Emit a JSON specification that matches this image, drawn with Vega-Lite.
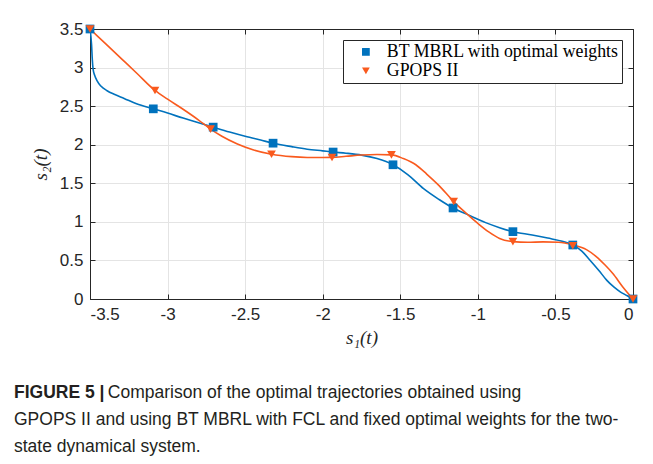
{
  "$schema": "https://vega.github.io/schema/vega-lite/v6.json",
  "width": 543,
  "height": 270,
  "autosize": {"type": "none"},
  "padding": {"left": 90, "top": 29, "right": 20, "bottom": 165},
  "background": "white",
  "title": {
    "text": "FIGURE 5 |",
    "subtitle": [
      "\u200b\u00a0\u00a0\u00a0\u00a0\u00a0\u00a0\u00a0\u00a0\u00a0\u00a0\u00a0\u00a0\u00a0\u00a0\u00a0\u00a0\u00a0\u00a0\u00a0\u200aComparison of the optimal trajectories obtained using",
      "GPOPS II and using BT MBRL with FCL and fixed optimal weights for the two-",
      "state dynamical system."
    ],
    "orient": "bottom",
    "anchor": "start",
    "frame": "group",
    "dx": -76,
    "offset": 37,
    "baseline": "top",
    "font": "Liberation Sans",
    "fontSize": 17.5,
    "fontWeight": "bold",
    "color": "#231f20",
    "lineHeight": 27,
    "subtitleFont": "Liberation Sans",
    "subtitleFontSize": 17.5,
    "subtitleFontWeight": "normal",
    "subtitleColor": "#231f20",
    "subtitleLineHeight": 27,
    "subtitlePadding": -17.5
  },
  "datasets": {
    "curves": [
      {"s": "BT MBRL with optimal weights", "x": -3.5, "y": 3.5},
      {"s": "BT MBRL with optimal weights", "x": -3.49, "y": 3.3},
      {"s": "BT MBRL with optimal weights", "x": -3.485, "y": 3.1},
      {"s": "BT MBRL with optimal weights", "x": -3.48, "y": 2.98},
      {"s": "BT MBRL with optimal weights", "x": -3.47, "y": 2.9},
      {"s": "BT MBRL with optimal weights", "x": -3.455, "y": 2.83},
      {"s": "BT MBRL with optimal weights", "x": -3.43, "y": 2.76},
      {"s": "BT MBRL with optimal weights", "x": -3.39, "y": 2.7},
      {"s": "BT MBRL with optimal weights", "x": -3.34, "y": 2.65},
      {"s": "BT MBRL with optimal weights", "x": -3.28, "y": 2.6},
      {"s": "BT MBRL with optimal weights", "x": -3.2, "y": 2.53},
      {"s": "BT MBRL with optimal weights", "x": -3.092, "y": 2.465},
      {"s": "BT MBRL with optimal weights", "x": -3.0, "y": 2.41},
      {"s": "BT MBRL with optimal weights", "x": -2.9, "y": 2.345},
      {"s": "BT MBRL with optimal weights", "x": -2.8, "y": 2.285},
      {"s": "BT MBRL with optimal weights", "x": -2.706, "y": 2.228},
      {"s": "BT MBRL with optimal weights", "x": -2.6, "y": 2.165},
      {"s": "BT MBRL with optimal weights", "x": -2.5, "y": 2.11},
      {"s": "BT MBRL with optimal weights", "x": -2.4, "y": 2.06},
      {"s": "BT MBRL with optimal weights", "x": -2.32, "y": 2.02},
      {"s": "BT MBRL with optimal weights", "x": -2.2, "y": 1.975},
      {"s": "BT MBRL with optimal weights", "x": -2.1, "y": 1.942},
      {"s": "BT MBRL with optimal weights", "x": -2.0, "y": 1.92},
      {"s": "BT MBRL with optimal weights", "x": -1.933, "y": 1.905},
      {"s": "BT MBRL with optimal weights", "x": -1.85, "y": 1.89},
      {"s": "BT MBRL with optimal weights", "x": -1.75, "y": 1.865},
      {"s": "BT MBRL with optimal weights", "x": -1.65, "y": 1.82},
      {"s": "BT MBRL with optimal weights", "x": -1.547, "y": 1.74},
      {"s": "BT MBRL with optimal weights", "x": -1.45, "y": 1.61},
      {"s": "BT MBRL with optimal weights", "x": -1.35, "y": 1.43},
      {"s": "BT MBRL with optimal weights", "x": -1.25, "y": 1.29},
      {"s": "BT MBRL with optimal weights", "x": -1.16, "y": 1.18},
      {"s": "BT MBRL with optimal weights", "x": -1.05, "y": 1.08},
      {"s": "BT MBRL with optimal weights", "x": -0.95, "y": 0.99},
      {"s": "BT MBRL with optimal weights", "x": -0.86, "y": 0.925},
      {"s": "BT MBRL with optimal weights", "x": -0.774, "y": 0.873},
      {"s": "BT MBRL with optimal weights", "x": -0.65, "y": 0.83},
      {"s": "BT MBRL with optimal weights", "x": -0.55, "y": 0.79},
      {"s": "BT MBRL with optimal weights", "x": -0.45, "y": 0.745},
      {"s": "BT MBRL with optimal weights", "x": -0.388, "y": 0.7},
      {"s": "BT MBRL with optimal weights", "x": -0.33, "y": 0.62},
      {"s": "BT MBRL with optimal weights", "x": -0.28, "y": 0.51},
      {"s": "BT MBRL with optimal weights", "x": -0.22, "y": 0.37},
      {"s": "BT MBRL with optimal weights", "x": -0.17, "y": 0.245},
      {"s": "BT MBRL with optimal weights", "x": -0.12, "y": 0.15},
      {"s": "BT MBRL with optimal weights", "x": -0.08, "y": 0.09},
      {"s": "BT MBRL with optimal weights", "x": -0.04, "y": 0.045},
      {"s": "BT MBRL with optimal weights", "x": 0, "y": 0},
      {"s": "GPOPS II", "x": -3.5, "y": 3.5},
      {"s": "GPOPS II", "x": -3.4, "y": 3.31},
      {"s": "GPOPS II", "x": -3.3, "y": 3.12},
      {"s": "GPOPS II", "x": -3.2, "y": 2.93},
      {"s": "GPOPS II", "x": -3.081, "y": 2.703},
      {"s": "GPOPS II", "x": -3.0, "y": 2.59},
      {"s": "GPOPS II", "x": -2.9, "y": 2.46},
      {"s": "GPOPS II", "x": -2.8, "y": 2.32},
      {"s": "GPOPS II", "x": -2.723, "y": 2.202},
      {"s": "GPOPS II", "x": -2.65, "y": 2.11},
      {"s": "GPOPS II", "x": -2.55, "y": 2.01},
      {"s": "GPOPS II", "x": -2.45, "y": 1.935},
      {"s": "GPOPS II", "x": -2.33, "y": 1.877},
      {"s": "GPOPS II", "x": -2.2, "y": 1.845},
      {"s": "GPOPS II", "x": -2.1, "y": 1.835},
      {"s": "GPOPS II", "x": -2.0, "y": 1.834},
      {"s": "GPOPS II", "x": -1.94, "y": 1.836},
      {"s": "GPOPS II", "x": -1.85, "y": 1.85},
      {"s": "GPOPS II", "x": -1.75, "y": 1.866},
      {"s": "GPOPS II", "x": -1.65, "y": 1.873},
      {"s": "GPOPS II", "x": -1.557, "y": 1.868},
      {"s": "GPOPS II", "x": -1.48, "y": 1.82},
      {"s": "GPOPS II", "x": -1.4, "y": 1.74},
      {"s": "GPOPS II", "x": -1.33, "y": 1.62},
      {"s": "GPOPS II", "x": -1.25, "y": 1.47},
      {"s": "GPOPS II", "x": -1.156, "y": 1.263},
      {"s": "GPOPS II", "x": -1.08, "y": 1.12},
      {"s": "GPOPS II", "x": -1.0, "y": 0.98},
      {"s": "GPOPS II", "x": -0.93, "y": 0.87},
      {"s": "GPOPS II", "x": -0.86, "y": 0.785},
      {"s": "GPOPS II", "x": -0.774, "y": 0.744},
      {"s": "GPOPS II", "x": -0.68, "y": 0.735},
      {"s": "GPOPS II", "x": -0.58, "y": 0.74},
      {"s": "GPOPS II", "x": -0.48, "y": 0.735},
      {"s": "GPOPS II", "x": -0.388, "y": 0.7},
      {"s": "GPOPS II", "x": -0.3, "y": 0.64},
      {"s": "GPOPS II", "x": -0.237, "y": 0.55},
      {"s": "GPOPS II", "x": -0.18, "y": 0.44},
      {"s": "GPOPS II", "x": -0.13, "y": 0.33},
      {"s": "GPOPS II", "x": -0.067, "y": 0.16},
      {"s": "GPOPS II", "x": 0, "y": 0}
    ],
    "markers": [
      {"s": "BT MBRL with optimal weights", "x": -3.5, "y": 3.5},
      {"s": "BT MBRL with optimal weights", "x": -3.092, "y": 2.465},
      {"s": "BT MBRL with optimal weights", "x": -2.706, "y": 2.228},
      {"s": "BT MBRL with optimal weights", "x": -2.32, "y": 2.02},
      {"s": "BT MBRL with optimal weights", "x": -1.933, "y": 1.905},
      {"s": "BT MBRL with optimal weights", "x": -1.547, "y": 1.74},
      {"s": "BT MBRL with optimal weights", "x": -1.16, "y": 1.18},
      {"s": "BT MBRL with optimal weights", "x": -0.774, "y": 0.873},
      {"s": "BT MBRL with optimal weights", "x": -0.388, "y": 0.7},
      {"s": "BT MBRL with optimal weights", "x": 0, "y": 0},
      {"s": "GPOPS II", "x": -3.5, "y": 3.5},
      {"s": "GPOPS II", "x": -3.081, "y": 2.703},
      {"s": "GPOPS II", "x": -2.723, "y": 2.202},
      {"s": "GPOPS II", "x": -2.33, "y": 1.877},
      {"s": "GPOPS II", "x": -1.94, "y": 1.834},
      {"s": "GPOPS II", "x": -1.557, "y": 1.868},
      {"s": "GPOPS II", "x": -1.156, "y": 1.263},
      {"s": "GPOPS II", "x": -0.774, "y": 0.744},
      {"s": "GPOPS II", "x": -0.388, "y": 0.69},
      {"s": "GPOPS II", "x": 0, "y": 0}
    ]
  },
  "layer": [
    {
      "data": {"name": "curves"},
      "transform": [{"filter": "datum.s === 'BT MBRL with optimal weights'"}],
      "mark": {"type": "line", "strokeWidth": 1.6, "interpolate": "monotone", "clip": true, "color": "#0072BD"},
      "encoding": {
        "x": {
          "field": "x", "type": "quantitative",
          "scale": {"domain": [-3.5, 0], "nice": false, "zero": false},
          "axis": {
            "orient": "bottom",
            "values": [-3.5, -3, -2.5, -2, -1.5, -1, -0.5, 0],
            "labelExpr": "datum.value + ''",
            "grid": true,
            "title": "s\u2081(t)",
            "labelPadding": 12,
            "titlePadding": 6
          }
        },
        "y": {
          "field": "y", "type": "quantitative",
          "scale": {"domain": [0, 3.5], "nice": false, "zero": false},
          "axis": {
            "orient": "left",
            "values": [0, 0.5, 1, 1.5, 2, 2.5, 3, 3.5],
            "labelExpr": "datum.value + ''",
            "grid": true,
            "title": "s\u2082(t)",
            "labelPadding": 12,
            "titlePadding": 9
          }
        }
      }
    },
    {
      "data": {"name": "curves"},
      "transform": [{"filter": "datum.s === 'GPOPS II'"}],
      "mark": {"type": "line", "strokeWidth": 1.6, "interpolate": "monotone", "clip": true, "color": "#F95A1E"},
      "encoding": {
        "x": {"field": "x", "type": "quantitative", "axis": null},
        "y": {"field": "y", "type": "quantitative", "axis": null}
      }
    },
    {
      "data": {"name": "markers"},
      "mark": {"type": "point", "filled": true, "opacity": 1, "size": 76},
      "encoding": {
        "x": {"field": "x", "type": "quantitative", "axis": null},
        "y": {"field": "y", "type": "quantitative", "axis": null},
        "color": {
          "field": "s", "type": "nominal",
          "scale": {"domain": ["BT MBRL with optimal weights", "GPOPS II"], "range": ["#0072BD", "#F95A1E"]},
          "legend": {"title": null, "orient": "none", "legendX": 253, "legendY": 11}
        },
        "shape": {
          "field": "s", "type": "nominal",
          "scale": {"domain": ["BT MBRL with optimal weights", "GPOPS II"], "range": ["square", "triangle-down"]},
          "legend": {"title": null, "orient": "none", "legendX": 253, "legendY": 11}
        }
      }
    },
    {
      "data": {"name": "markers"},
      "mark": {"type": "point", "opacity": 0},
      "encoding": {
        "x": {
          "field": "x", "type": "quantitative",
          "axis": {"orient": "top", "values": [-3.5, -3, -2.5, -2, -1.5, -1, -0.5, 0], "labels": false, "grid": false, "title": null}
        },
        "y": {
          "field": "y", "type": "quantitative",
          "axis": {"orient": "right", "values": [0, 0.5, 1, 1.5, 2, 2.5, 3, 3.5], "labels": false, "grid": false, "title": null}
        }
      }
    }
  ],
  "resolve": {
    "axis": {"x": "independent", "y": "independent"}
  },
  "config": {
    "view": {"stroke": "#262626", "strokeWidth": 1},
    "axis": {
      "labelFont": "Liberation Sans",
      "labelFontSize": 17,
      "labelColor": "#262626",
      "domainColor": "#262626",
      "tickColor": "#262626",
      "tickSize": -5,
      "gridColor": "#e4e4e4",
      "gridWidth": 1,
      "titleFont": "Liberation Serif",
      "titleFontSize": 19,
      "titleFontStyle": "italic",
      "titleFontWeight": "normal",
      "titleColor": "#262626"
    },
    "legend": {
      "strokeColor": "#262626",
      "fillColor": "white",
      "padding": 3,
      "symbolOffset": 11,
      "symbolSize": 60,
      "symbolStrokeWidth": 0,
      "labelFont": "Liberation Serif",
      "labelFontSize": 17.8,
      "labelColor": "#000000",
      "labelOffset": 12,
      "rowPadding": 0,
      "labelLimit": 400
    }
  }
}
